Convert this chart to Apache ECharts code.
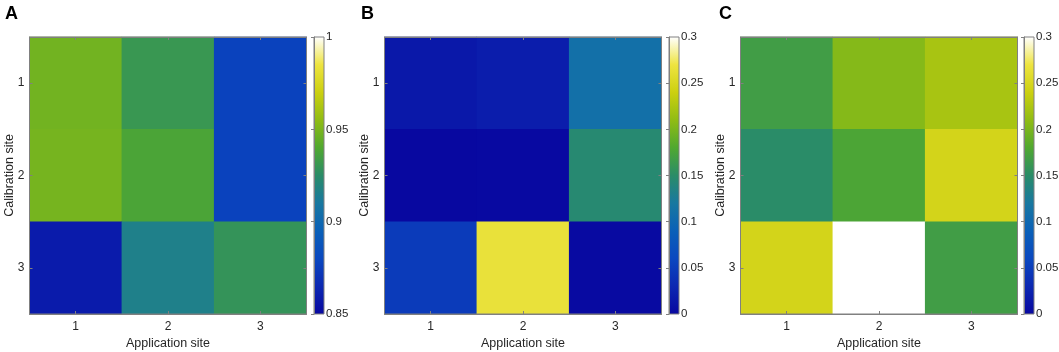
<!DOCTYPE html>
<html>
<head>
<meta charset="utf-8">
<script src="https://cdn.jsdelivr.net/npm/echarts@6/dist/echarts.min.js"></script>
<style>
  html, body { margin: 0; padding: 0; background: #fff; }
  #chart { width: 1059px; height: 352px; }
</style>
</head>
<body>
<div id="chart"></div>
<script>
// site labels
const sites = ['1', '2', '3'];

// rows = calibration site 1..3, columns = application site 1..3
const panelA = [
  [0.948, 0.931, 0.877],
  [0.949, 0.938, 0.877],
  [0.859, 0.916, 0.929]
];
const panelB = [
  [0.015, 0.02, 0.11],
  [0.0, 0.001, 0.145],
  [0.048, 0.266, 0.002]
];
const panelC = [
  [0.168, 0.205, 0.222],
  [0.15, 0.177, 0.246],
  [0.246, 0.3, 0.168]
];

const panelNames = ['A', 'B', 'C'];
const ranges = [[0.85, 1], [0, 0.3], [0, 0.3]];
const tickStep = 0.05;

// parula-like map running into white at the top
const colormap = ['#0808a0', '#0c28b2', '#0a48c0', '#0a60b8', '#1878a0', '#2a8c68',
  '#50a830', '#90bc14', '#ccd010', '#eee440', '#ffffff'];

const plotLeft = [29.5, 384.5, 740.5];
const plotWidth = 277;
const barLeft = [314, 669, 1024];
const plotTop = 37;
const size = 277;
const axisColor = '#808080';
const textColor = '#262626';
const font = 'Liberation Sans, Arial, sans-serif';

function toCells(matrix) {
  const cells = [];
  matrix.forEach((row, r) => {
    row.forEach((v, c) => cells.push([c, r, v]));
  });
  return cells;
}

// gradient for the colorbar, top of the bar = top of the map
const barGradient = () => new echarts.graphic.LinearGradient(0, 0, 0, 1,
  colormap.slice().reverse().map((c, k) => ({ offset: k / (colormap.length - 1), color: c })));

const matrices = [panelA, panelB, panelC];
const grid = [];
const xAxis = [];
const yAxis = [];
const series = [];
const barSeries = [];
const visualMap = [];
const title = [];

matrices.forEach((m, i) => {
  // heatmap grid
  grid.push({ left: plotLeft[i], top: plotTop, width: plotWidth, height: size, show: true,
    outerBoundsMode: 'none',
    borderColor: axisColor, borderWidth: 1, backgroundColor: 'transparent', z: 10 });
  // colorbar grid
  grid.push({ left: barLeft[i], top: plotTop, width: 10, height: size, show: true,
    outerBoundsMode: 'none',
    borderColor: axisColor, borderWidth: 1, backgroundColor: 'transparent', z: 10 });

  const g = i * 2;
  const tickStyle = { show: true, inside: true, length: 3, alignWithLabel: true, lineStyle: { color: axisColor } };
  xAxis.push({
    type: 'category', data: sites, gridIndex: g, position: 'bottom', z: 10,
    axisLine: { lineStyle: { color: axisColor } }, axisTick: tickStyle,
    axisLabel: { color: textColor, fontSize: 12, fontFamily: font, margin: 7 },
    name: 'Application site', nameLocation: 'middle', nameGap: 23, nameMoveOverlap: false,
    nameTextStyle: { color: textColor, fontSize: 12.5, fontFamily: font }
  });
  xAxis.push({
    type: 'category', data: sites, gridIndex: g, position: 'top', z: 10,
    axisLine: { lineStyle: { color: axisColor } }, axisTick: tickStyle, axisLabel: { show: false }
  });
  yAxis.push({
    type: 'category', data: sites, gridIndex: g, position: 'left', inverse: true, z: 10,
    axisLine: { lineStyle: { color: axisColor } }, axisTick: tickStyle,
    axisLabel: { color: textColor, fontSize: 12, fontFamily: font, margin: 5 },
    name: 'Calibration site', nameLocation: 'middle', nameGap: 13, nameMoveOverlap: false,
    nameTextStyle: { color: textColor, fontSize: 12.5, fontFamily: font }
  });
  yAxis.push({
    type: 'category', data: sites, gridIndex: g, position: 'right', inverse: true, z: 10,
    axisLine: { lineStyle: { color: axisColor } }, axisTick: tickStyle, axisLabel: { show: false }
  });

  // colorbar axes
  xAxis.push({ type: 'value', gridIndex: g + 1, show: false, min: 0, max: 1 });
  yAxis.push({
    type: 'value', gridIndex: g + 1, position: 'right', z: 10,
    min: ranges[i][0], max: ranges[i][1], interval: tickStep,
    splitLine: { show: false },
    axisLine: { show: true, lineStyle: { color: axisColor } },
    axisTick: { show: true, inside: true, length: 3, lineStyle: { color: axisColor } },
    axisLabel: { color: textColor, fontSize: 11.5, fontFamily: font, margin: 2 }
  });

  series.push({
    type: 'heatmap',
    xAxisIndex: i * 3,
    yAxisIndex: i * 3,
    data: toCells(m),
    itemStyle: { borderWidth: 0 },
    emphasis: { disabled: true }
  });

  // colorbar: one rect spanning the range on the colorbar axis
  barSeries.push({
    type: 'custom',
    xAxisIndex: i * 3 + 2,
    yAxisIndex: i * 3 + 2,
    data: [[0, ranges[i][0], 1, ranges[i][1]]],
    renderItem: (params, api) => {
      const p0 = api.coord([api.value(0), api.value(3)]);
      const p1 = api.coord([api.value(2), api.value(1)]);
      return {
        type: 'rect',
        shape: { x: p0[0], y: p0[1], width: p1[0] - p0[0], height: p1[1] - p0[1] },
        style: { fill: barGradient() }
      };
    },
    silent: true
  });

  visualMap.push({
    type: 'continuous', seriesIndex: i, min: ranges[i][0], max: ranges[i][1],
    show: false, inRange: { color: colormap }
  });

  title.push({
    text: panelNames[i], left: [5, 361, 719][i], top: 5, padding: 0,
    textStyle: { fontSize: 18, fontWeight: 'bold', color: '#000', fontFamily: font }
  });
});

const chart = echarts.init(document.getElementById('chart'), null, { renderer: 'canvas' });
chart.setOption({
  animation: false,
  backgroundColor: '#fff',
  title: title,
  grid: grid,
  xAxis: xAxis,
  yAxis: yAxis,
  visualMap: visualMap,
  series: series.concat(barSeries)
});
</script>
</body>
</html>
